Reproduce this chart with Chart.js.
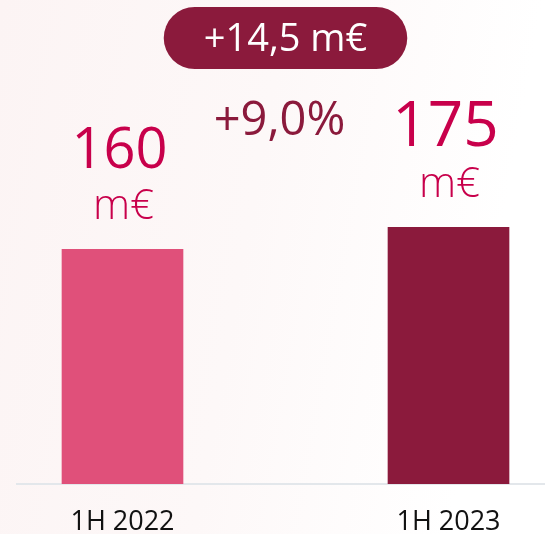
<!DOCTYPE html>
<html>
<head>
<meta charset="utf-8">
<script src="https://cdn.jsdelivr.net/npm/chart.js@4.4.0/dist/chart.umd.min.js"></script>
<style>
  html, body { margin: 0; padding: 0; }
  body {
    width: 545px; height: 534px; overflow: hidden;
    background: linear-gradient(100deg, #fcf4f4 0%, #fdf8f8 45%, #ffffff 85%);
  }
  canvas { display: block; }
</style>
</head>
<body>
<canvas id="chart" width="545" height="534"></canvas>
<script>
// Data
const categories = ['1H 2022', '1H 2023'];
const revenue = [160, 175];
const unitLabel = 'm€';
const changeAbsLabel = '+14,5 m€';
const changePctLabel = '+9,0%';

const FONT = '"Open Sans", sans-serif';
const barColors = ['#e0507a', '#8b1a3c'];
const valueSizes = [56, 62];

// draws the value labels above the bars and the change badge
const labelsPlugin = {
  id: 'labels',
  afterDatasetsDraw(chart) {
    const ctx = chart.ctx;
    const bars = chart.getDatasetMeta(0).data;
    ctx.save();
    ctx.textAlign = 'center';
    ctx.textBaseline = 'alphabetic';
    bars.forEach((bar, i) => {
      ctx.fillStyle = '#c8004b';
      ctx.font = `${valueSizes[i]}px ${FONT}`;
      ctx.fillText(String(revenue[i]), bar.x - 3, bar.y - 81);
      ctx.font = `300 42px ${FONT}`;
      ctx.fillText(unitLabel, bar.x + 1, bar.y - 30);
    });

    const midX = (bars[0].x + bars[1].x) / 2;

    // percentage change
    ctx.fillStyle = '#8b1a3c';
    ctx.font = `47px ${FONT}`;
    ctx.fillText(changePctLabel, midX - 6, 135);

    // absolute change pill
    ctx.font = `38px ${FONT}`;
    const w = ctx.measureText(changeAbsLabel).width + 80;
    const h = 62;
    ctx.fillStyle = '#8b1a3c';
    ctx.beginPath();
    ctx.roundRect(midX - w / 2, 7, w, h, h / 2);
    ctx.fill();
    ctx.fillStyle = '#ffffff';
    ctx.fillText(changeAbsLabel, midX, 51);
    ctx.restore();
  }
};

new Chart(document.getElementById('chart'), {
  type: 'bar',
  data: {
    datasets: [{
      data: revenue.map((v, i) => ({ x: i, y: v })),
      backgroundColor: barColors,
      borderWidth: 0,
      barThickness: 121
    }]
  },
  options: {
    responsive: false,
    animation: false,
    layout: { padding: { left: 17, right: 0, top: 0, bottom: 0 } },
    plugins: { legend: { display: false }, tooltip: { enabled: false } },
    scales: {
      x: {
        type: 'linear',
        offset: false,
        min: -0.3236,
        max: 1.296,
        grid: { display: false, drawTicks: false },
        border: { display: true, color: '#e3e7eb', width: 2 },
        afterBuildTicks: (axis) => { axis.ticks = categories.map((c, i) => ({ value: i })); },
        afterFit: (axis) => { axis.height = 50; },
        ticks: {
          callback: (v) => categories[v],
          color: '#111111',
          font: { family: FONT, size: 27 },
          padding: 22,
          maxRotation: 0
        }
      },
      y: {
        display: false,
        min: 0,
        max: 330
      }
    }
  },
  plugins: [labelsPlugin]
});
</script>
</body>
</html>
